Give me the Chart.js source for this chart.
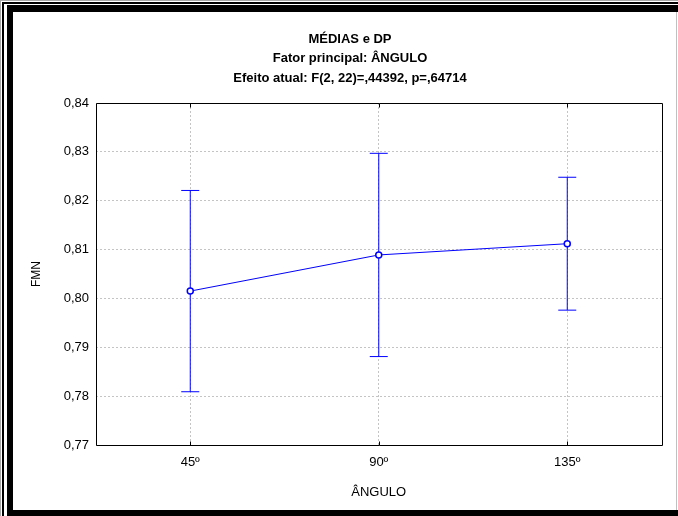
<!DOCTYPE html>
<html>
<head>
<meta charset="utf-8">
<script src="https://cdn.jsdelivr.net/npm/chart.js@4.4.0/dist/chart.umd.min.js"></script>
<style>
  body { margin: 0; background: #fff; }
  #page { position: relative; width: 678px; height: 516px; overflow: hidden; background: #fff; }
  #outer { position: absolute; left: 0; top: 0; width: 678px; height: 516px; box-sizing: border-box;
           border-top: 1px solid #a8a8a8; border-left: 1px solid #a8a8a8; }
  #thin { position: absolute; left: 2px; top: 2px; width: 676px; height: 514px; box-sizing: border-box;
          border-top: 2px solid #000; border-left: 2px solid #000; }
  #thick { position: absolute; left: 7px; top: 5px; width: 671px; height: 511px; box-sizing: border-box;
           border-top: 7px solid #000; border-left: 6px solid #000; border-bottom: 6px solid #000; }
  #edge { position: absolute; left: 676px; top: 12px; width: 1px; height: 498px; background: #c0c0c0; }
  #chart { position: absolute; left: 13px; top: 12px; }
</style>
</head>
<body>
<div id="page">
  <div id="outer"></div>
  <div id="thin"></div>
  <div id="thick"></div>
  <div id="edge"></div>
  <canvas id="chart" width="663" height="498"></canvas>
</div>
<script>
"use strict";

// Data
const angles = ["45º", "90º", "135º"];
const means = [0.8015, 0.8089, 0.8112];
const sd = [0.0206, 0.0208, 0.0136];

const titleLines = [
  "MÉDIAS e DP",
  "Fator principal: ÂNGULO",
  "Efeito atual: F(2, 22)=,44392, p=,64714"
];
const yTicks = [0.77, 0.78, 0.79, 0.80, 0.81, 0.82, 0.83, 0.84];

const blue = "#0000ff";
const font = "'Liberation Sans', Arial, sans-serif";

/**
 * One small line dataset per angle: a vertical bar from mean-SD to mean+SD,
 * with horizontal caps drawn as 'line' point markers.
 */
const sdDatasets = angles.map((a, i) => ({
  data: [
    { x: a, y: means[i] - sd[i] },
    { x: a, y: means[i] + sd[i] }
  ],
  borderColor: blue,
  borderWidth: 1,
  pointStyle: "line",
  pointRadius: 9,
  pointBorderWidth: 1,
  pointBorderColor: blue,
  order: 2
}));

/**
 * Closes the plot box and adds the small inward x ticks.
 */
const plotBox = {
  id: "plotBox",
  beforeDatasetsDraw(chart) {
    const { ctx, chartArea: a, scales: { x } } = chart;
    const l = Math.round(a.left) + 0.5, r = Math.round(a.right) + 0.5;
    const t = Math.round(a.top) + 0.5, b = Math.round(a.bottom) + 0.5;
    ctx.save();
    ctx.setLineDash([]);
    ctx.strokeStyle = "#000";
    ctx.lineWidth = 1;
    ctx.beginPath();
    ctx.rect(l, t, r - l, b - t);
    angles.forEach((_, i) => {
      const px = Math.round(x.getPixelForValue(i)) + 0.5;
      ctx.moveTo(px, t);
      ctx.lineTo(px, t + 4);
      ctx.moveTo(px, b);
      ctx.lineTo(px, b - 4);
    });
    ctx.stroke();
    ctx.restore();
  }
};

const renderChart = () => {
  const ctx = document.getElementById("chart").getContext("2d");

  new Chart(ctx, {
    type: "line",
    data: {
      labels: angles,
      datasets: [
        {
          data: means,
          borderColor: blue,
          borderWidth: 1,
          backgroundColor: "#fff",
          pointRadius: 3,
          pointBorderWidth: 1.5,
          pointBackgroundColor: "#fff",
          pointBorderColor: blue,
          tension: 0,
          order: 1
        },
        ...sdDatasets
      ]
    },
    options: {
      responsive: false,
      animation: false,
      layout: { padding: { left: 25.5, right: 14.5, top: 0, bottom: 0 } },
      plugins: {
        legend: { display: false },
        tooltip: { enabled: false },
        title: {
          display: true,
          text: titleLines,
          color: "#000",
          font: { family: font, size: 13, weight: "bold", lineHeight: 19.5 / 13 },
          padding: { top: 17.5, bottom: 15 }
        }
      },
      scales: {
        x: {
          type: "category",
          offset: true,
          grid: { color: "#c4c4c4", drawTicks: false },
          border: { display: false, dash: [2, 2] },
          ticks: { color: "#000", font: { family: font, size: 13 }, padding: 10 },
          title: {
            display: true,
            text: "ÂNGULO",
            color: "#000",
            font: { family: font, size: 13 },
            padding: { top: 0, bottom: 10 }
          },
          afterFit: (scale) => { scale.height = 65; }
        },
        y: {
          min: yTicks[0],
          max: yTicks[yTicks.length - 1],
          afterBuildTicks: (scale) => { scale.ticks = yTicks.map((v) => ({ value: v })); },
          grid: { color: "#c4c4c4", drawTicks: false },
          border: { display: false, dash: [2, 2] },
          ticks: {
            color: "#000",
            font: { family: font, size: 13 },
            padding: 7,
            callback: (v) => v.toFixed(2).replace(".", ",")
          },
          title: {
            display: true,
            text: "FMN",
            color: "#000",
            font: { family: font, size: 12 },
            padding: { top: -9.2, bottom: 0 }
          },
          afterFit: (scale) => { scale.width = 57.5; }
        }
      }
    },
    plugins: [plotBox]
  });
};

document.addEventListener("DOMContentLoaded", renderChart);
</script>
</body>
</html>
